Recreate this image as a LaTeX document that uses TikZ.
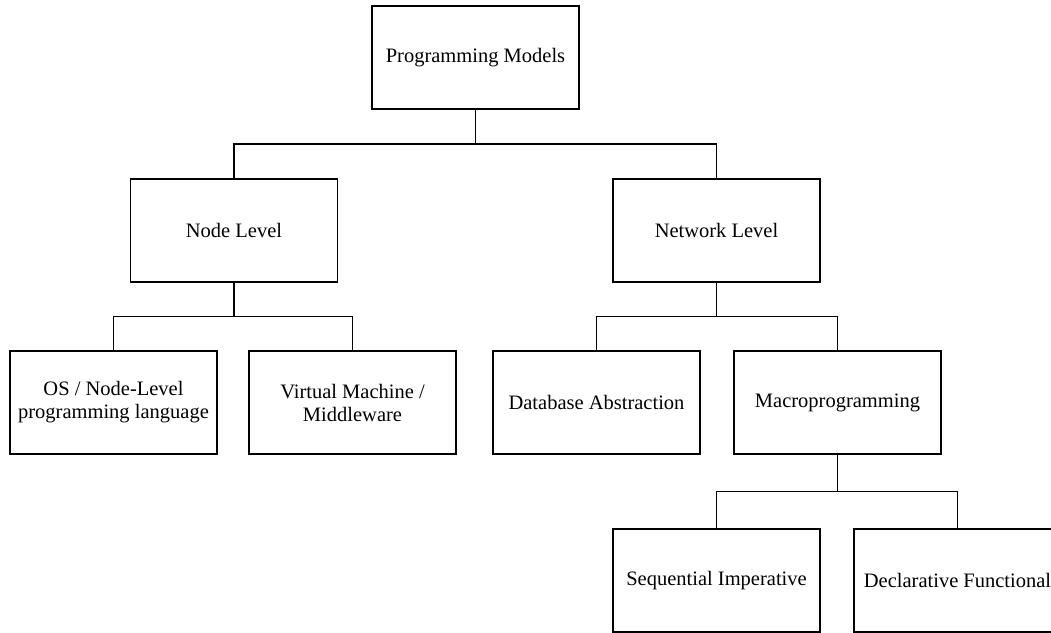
\documentclass[tikz,border=0pt]{standalone}
\usepackage{fontspec}
\setmainfont{Liberation Serif}
\usetikzlibrary{calc}
\begin{document}
\begin{tikzpicture}[x=1pt,y=-1pt,
  box/.style={draw, line width=1.6pt, minimum width=207pt, minimum height=103pt,
    inner sep=0pt, align=center, font=\fontsize{20.5}{23}\selectfont},
  link/.style={line width=1.6pt}]
\useasboundingbox (0,0) rectangle (1051,632);

% root
\node[box] (pm) at (475.5,57.5) {Programming Models};
% second level
\node[box] (nl) at (234,230.5) {Node Level};
\node[box] (wl) at (716.5,230.5) {Network Level};
% third level
\node[box] (os) at (113.5,402.5) {OS / Node-Level\\programming language};
\node[box] (vm) at (352.5,402.5) {Virtual Machine /\\Middleware};
\node[box] (db) at (596.5,402.5) {Database Abstraction};
\node[box] (mp) at (837.5,402.5) {Macroprogramming};
% fourth level
\node[box] (sq) at (716.5,580.5) {Sequential Imperative};
\node[box] (df) at (957.5,580.5) {Declarative Functional};

% tree connectors: stem down to a junction, then a bar over the children
\coordinate (j1) at ($(pm.south)!.5!(pm.south|-nl.north)$);
\draw[link] (pm.south) -- (j1);
\draw[link] (nl.north) |- (j1) -| (wl.north);

\coordinate (j2) at ($(nl.south)!.5!(nl.south|-os.north)$);
\draw[link] (nl.south) -- (j2);
\draw[link] (os.north) |- (j2) -| (vm.north);

\coordinate (j3) at ($(wl.south)!.5!(wl.south|-db.north)$);
\draw[link] (wl.south) -- (j3);
\draw[link] (db.north) |- (j3) -| (mp.north);

\coordinate (j4) at ($(mp.south)!.5!(mp.south|-sq.north)$);
\draw[link] (mp.south) -- (j4);
\draw[link] (sq.north) |- (j4) -| (df.north);
\end{tikzpicture}
\end{document}
